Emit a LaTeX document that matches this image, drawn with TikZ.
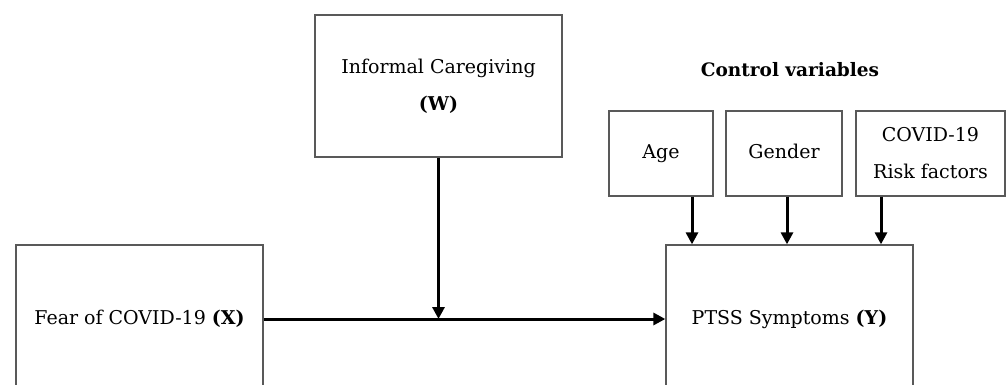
\documentclass[tikz,border=0pt]{standalone}
\usepackage{fontspec}
\setmainfont{DejaVu Serif}
\usepackage{tikz}
\usetikzlibrary{arrows.meta}
\tikzset{box/.style = {draw=black!65, line width=1.3pt, align=center,
  inner sep=0pt, font=\fontsize{19}{37}\selectfont},
  oneline/.style = {text height=14pt, text depth=4pt},
  arr/.style = {line width=3pt, -{Triangle[length=12pt,width=12pt]}}}

\begin{document}
\begin{tikzpicture}[x=1pt,y=-1pt]
  \useasboundingbox (0,0) rectangle (1007,385);
  \node[box, minimum width=247pt, minimum height=148pt] (X) at (139.5,319) {Fear of COVID-19 \textbf{(X)}};
  \node[box, minimum width=247pt, minimum height=148pt] (Y) at (789.5,319) {PTSS Symptoms \textbf{(Y)}};
  \node[box, minimum width=247pt, minimum height=142pt] (W) at (438.5,86) {Informal Caregiving\\\textbf{(W)}};
  \node[font=\fontsize{18.5}{22}\selectfont\bfseries] (ctrl) at (790,70) {Control variables};
  \node[box, oneline, minimum width=104pt, minimum height=85pt] (age) at (661,153.5) {Age};
  \node[box, oneline, minimum width=116pt, minimum height=85pt] (gender) at (784,153.5) {Gender};
  \node[box, minimum width=149pt, minimum height=85pt] (risk) at (930.5,153.5) {COVID-19\\Risk factors};
  \draw[arr] (X.east) -- (Y.west);
  \draw[arr] (W.south) -- (W.south |- X.east);
  \draw[arr] (age.south -| 692,0) -- (Y.north -| 692,0);
  \draw[arr] (gender.south -| 787,0) -- (Y.north -| 787,0);
  \draw[arr] (risk.south -| 881,0) -- (Y.north -| 881,0);
\end{tikzpicture}
\end{document}
